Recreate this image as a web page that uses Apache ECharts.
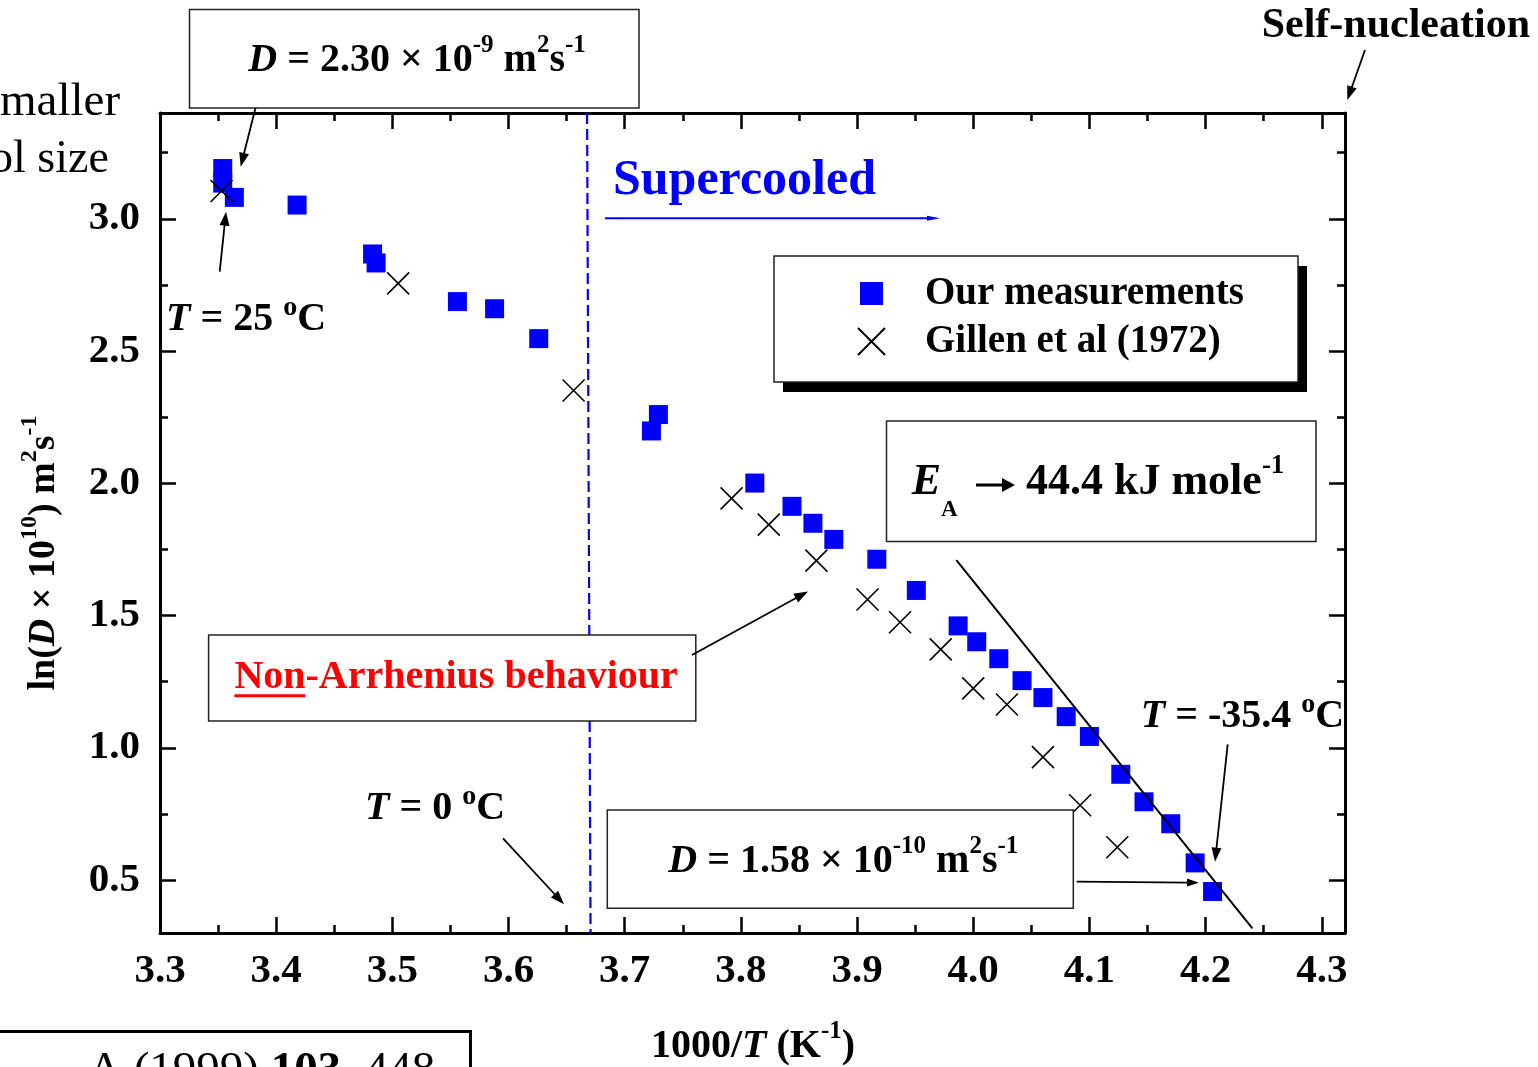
<!DOCTYPE html>
<html>
<head>
<meta charset="utf-8">
<title>Diffusion coefficient vs 1000/T</title>
<script src="https://cdn.jsdelivr.net/npm/echarts@6/dist/echarts.min.js"></script>
<style>
  html, body { margin: 0; padding: 0; background: #fff; }
  #chart { width: 1538px; height: 1067px; }
</style>
</head>
<body>
<div id="chart"></div>
<script>
// ---- data: 1000/T (K^-1) against ln(D x 10^10 / m^2 s^-1) ----
const ourX = [3.354, 3.354, 3.364, 3.418, 3.483, 3.486, 3.556, 3.588, 3.626, 3.723, 3.729,
              3.812, 3.844, 3.862, 3.880, 3.917, 3.951, 3.987, 4.003, 4.022, 4.042, 4.060,
              4.080, 4.100, 4.127, 4.147, 4.170, 4.191, 4.206];
const ourY = [3.190, 3.135, 3.081, 3.052, 2.867, 2.833, 2.687, 2.660, 2.547, 2.198, 2.260,
              2.001, 1.913, 1.849, 1.788, 1.713, 1.595, 1.461, 1.401, 1.337, 1.254, 1.190,
              1.118, 1.043, 0.900, 0.796, 0.713, 0.565, 0.457];

const gillenX = [3.353, 3.505, 3.656, 3.792, 3.824, 3.865, 3.909, 3.937, 3.972, 4.000, 4.029,
                 4.060, 4.092, 4.124];
const gillenY = [3.105, 2.756, 2.351, 1.943, 1.844, 1.708, 1.561, 1.475, 1.372, 1.225, 1.164,
                 0.965, 0.783, 0.624];

// Arrhenius line through the coldest points
const fitX = [3.9855, 4.2403];
const fitY = [1.710, 0.3175];

// 0 °C boundary (start of the supercooled region)
const zeroX = [3.6676, 3.6706];
const zeroY = [3.4, 0.3];

// axes
const xMin = 3.3, xMax = 4.32, yMin = 0.3, yMax = 3.4;
const xTicks = [3.3, 3.4, 3.5, 3.6, 3.7, 3.8, 3.9, 4.0, 4.1, 4.2, 4.3];
const xTickLabels = ['3.3', '3.4', '3.5', '3.6', '3.7', '3.8', '3.9', '4.0', '4.1', '4.2', '4.3'];
const xMinorTicks = [3.35, 3.45, 3.55, 3.65, 3.75, 3.85, 3.95, 4.05, 4.15, 4.25];
const yTicks = [0.5, 1.0, 1.5, 2.0, 2.5, 3.0];
const yTickLabels = ['0.5', '1.0', '1.5', '2.0', '2.5', '3.0'];
const yMinorTicks = [0.75, 1.25, 1.75, 2.25, 2.75, 3.25];

const seriesNames = ['Our measurements', 'Gillen et al (1972)'];

// ---- styling helpers ----
const FONT = "'Liberation Serif', 'Times New Roman', Times, serif";
const EM_MID = 0.32;   // distance from alphabetic baseline to the middle baseline, in em
const BLUE = '#0000ff', RED = '#ff0000', BLACK = '#000000';

const zip = (xs, ys) => xs.map((x, i) => [x, ys[i]]);

function labelFor(ticks, labels) {
  return function (v) {
    const i = ticks.findIndex(t => Math.abs(t - v) < 1e-6);
    return i >= 0 ? labels[i] : '';
  };
}

function makeAxis(dim, position, ticks, labels, tickLen, showLine) {
  const isX = dim === 'x';
  const axis = {
    type: 'value',
    position: position,
    gridIndex: 0,
    min: isX ? xMin : yMin,
    max: isX ? xMax : yMax,
    axisLine: { show: showLine, onZero: false, lineStyle: { color: BLACK, width: 3 } },
    axisTick: { show: true, inside: true, length: tickLen, customValues: ticks,
                lineStyle: { color: BLACK, width: 2.5 } },
    axisLabel: { show: false },
    splitLine: { show: false },
    minorTick: { show: false },
    minorSplitLine: { show: false }
  };
  if (labels) {
    axis.axisLabel = {
      show: true,
      customValues: ticks,
      formatter: labelFor(ticks, labels),
      margin: isX ? 18 : 20,
      color: BLACK,
      fontFamily: FONT,
      fontWeight: 'bold',
      fontSize: 41
    };
  }
  return axis;
}

// rich-text styles: base, italic, super/subscripts
function richStyles(F, color) {
  const s = Math.round(F * 0.62);
  const d = Math.round(F * 0.7);
  const sb = Math.round(F * 0.52);
  const base = { fontFamily: FONT, fill: color, verticalAlign: 'middle' };
  return {
    b: Object.assign({}, base, { fontSize: F, fontWeight: 'bold' }),
    i: Object.assign({}, base, { fontSize: F, fontWeight: 'bold', fontStyle: 'italic' }),
    r: Object.assign({}, base, { fontSize: F, fontWeight: 'normal' }),
    sup: Object.assign({}, base, { fontSize: s, fontWeight: 'bold',
      padding: [0, 0, 2 * (0.49 * F - EM_MID * (F - s)), 0] }),
    deg: Object.assign({}, base, { fontSize: d, fontWeight: 'bold',
      padding: [0, 0, 2 * (0.38 * F - EM_MID * (F - d)), 0] }),
    sub: Object.assign({}, base, { fontSize: sb, fontWeight: 'bold',
      padding: [2 * (0.47 * F + EM_MID * (F - sb)), 0, 0, 0] })
  };
}

function text(x, baseline, content, F, color, align) {
  return {
    type: 'text', z: 12, silent: true,
    x: x, y: baseline - EM_MID * F,
    style: { text: content, rich: richStyles(F, color || BLACK),
             align: align || 'left', verticalAlign: 'middle' }
  };
}

function box(x, y, w, h, lw, stroke) {
  return { type: 'rect', z: 10, silent: true,
           shape: { x: x, y: y, width: w, height: h },
           style: { fill: '#ffffff', stroke: stroke || '#222', lineWidth: lw || 1.5 } };
}

function arrow(x1, y1, x2, y2, color, lw, hl, hw) {
  color = color || BLACK; lw = lw || 1.8; hl = hl || 14; hw = hw || 5;
  const dx = x2 - x1, dy = y2 - y1, L = Math.hypot(dx, dy), ux = dx / L, uy = dy / L;
  const bx = x2 - ux * hl, by = y2 - uy * hl;
  return [
    { type: 'line', z: 11, silent: true,
      shape: { x1: x1, y1: y1, x2: bx + ux * 2, y2: by + uy * 2 },
      style: { stroke: color, lineWidth: lw } },
    { type: 'polygon', z: 11, silent: true,
      shape: { points: [[x2, y2], [bx - uy * hw, by + ux * hw], [bx + uy * hw, by - ux * hw]] },
      style: { fill: color } }
  ];
}

const CROSS = 'path://M0,0L10,10M10,0L0,10';
const SQUARE_ICON = 'path://M0,0M27,27M2,2L25,2L25,25L2,25Z';

// ---- annotations ----
const yTitle = {
  type: 'text', z: 12, silent: true,
  x: 56 - EM_MID * 38, y: 553, rotation: Math.PI / 2,
  style: {
    text: '{b|ln(}{i|D}{b| × 10}{sup|10}{b|) m}{sup|2}{b|s}{sup|-1}',
    rich: richStyles(38, BLACK), align: 'center', verticalAlign: 'middle'
  }
};

const graphics = [].concat(
  // text cut at the left / bottom edges
  [text(0, 118, '{r|maller}', 47),
   text(-10, 175, '{r|ol size}', 46)],
  [box(-10, 1031.5, 480.5, 80, 3, BLACK),
   text(88, 1087, '{r|A (1999) }{b|103}{r|, 448}', 47)],

  // D at 25 °C
  [box(189.5, 9.5, 449.5, 98.5),
   text(248.3, 73.3, '{i|D}{b| = 2.30 × 10}{sup|-9}{b| m}{sup|2}{b|s}{sup|-1}', 40)],
  arrow(255.5, 108, 240.7, 166.7),
  [text(166, 332, '{i|T}{b| = 25 }{deg|o}{b|C}', 40)],
  arrow(219.7, 271.7, 226, 211.7),

  // supercooled region
  [text(613, 197, '{b|Supercooled}', 50, BLUE)],
  arrow(605, 218.3, 940, 218.3, BLUE, 2, 13, 2.5),

  // legend frame with drop shadow
  [{ type: 'rect', z: 9, silent: true, shape: { x: 783, y: 266, width: 524, height: 126 },
     style: { fill: BLACK } },
   box(774, 256, 524, 126)],

  // activation energy
  [box(886.5, 421, 429.5, 120.5),
   text(911.7, 496.7, '{i|E}{sub|A}', 44),
   text(1026, 496.7, '{b|44.4 kJ mole}{sup|-1}', 44)],
  arrow(976, 485, 1015, 485, BLACK, 3, 13, 7),

  // non-Arrhenius note
  [box(208.6, 635, 487.2, 86),
   text(234.4, 690, '{b|Non-Arrhenius behaviour}', 40, RED),
   { type: 'line', z: 12, silent: true, shape: { x1: 234.4, y1: 695.8, x2: 305.4, y2: 695.8 },
     style: { stroke: RED, lineWidth: 3 } }],
  arrow(692, 655, 808, 591.5),

  // 0 °C
  [text(365, 821, '{i|T}{b| = 0 }{deg|o}{b|C}', 40)],
  arrow(503, 838.3, 564, 904.3),

  // D at -35.4 °C
  [box(607.3, 810, 466, 98.3),
   text(668.3, 874, '{i|D}{b| = 1.58 × 10}{sup|-10}{b| m}{sup|2}{b|s}{sup|-1}', 40)],
  arrow(1076.7, 881.7, 1199, 882.7, BLACK, 1.8, 12, 4),
  [text(1140.7, 729, '{i|T}{b| = -35.4 }{deg|o}{b|C}', 40)],
  arrow(1227.7, 744.3, 1215, 861.7),

  // self-nucleation limit
  [text(1261.7, 39.3, '{b|Self-nucleation}', 42)],
  arrow(1365, 50, 1347.3, 100),

  // axis titles
  [yTitle,
   text(753, 1059, '{b|1000/}{i|T}{b| (K}{sup|-1}{b|)}', 40, BLACK, 'center')]
);

const chart = echarts.init(document.getElementById('chart'), null, { renderer: 'canvas' });

chart.setOption({
  backgroundColor: '#ffffff',
  animation: false,
  grid: { left: 160, top: 113, width: 1185, height: 820, containLabel: false, outerBoundsMode: 'none' },
  xAxis: [
    makeAxis('x', 'bottom', xTicks, xTickLabels, 16, true),
    makeAxis('x', 'top', xTicks, null, 16, true),
    makeAxis('x', 'bottom', xMinorTicks, null, 8, false),
    makeAxis('x', 'top', xMinorTicks, null, 8, false)
  ],
  yAxis: [
    makeAxis('y', 'left', yTicks, yTickLabels, 16, true),
    makeAxis('y', 'right', yTicks, null, 16, true),
    makeAxis('y', 'left', yMinorTicks, null, 8, false),
    makeAxis('y', 'right', yMinorTicks, null, 8, false)
  ],
  legend: {
    orient: 'vertical',
    left: 857, top: 274,
    padding: 0,
    itemGap: 9,
    itemWidth: 27, itemHeight: 27,
    selectedMode: false,
    z: 20,
    data: [
      { name: seriesNames[0], icon: SQUARE_ICON },
      { name: seriesNames[1], icon: CROSS }
    ],
    textStyle: { fontFamily: FONT, fontWeight: 'bold', fontSize: 39, color: BLACK,
                 lineHeight: 27, padding: [0, 0, 0, 35] }
  },
  graphic: { elements: graphics },
  series: [
    {
      name: '0 °C', type: 'line', data: zip(zeroX, zeroY),
      symbol: 'none', silent: true,
      lineStyle: { color: BLUE, width: 2.2, type: [11, 5] }
    },
    {
      name: seriesNames[0], type: 'scatter', data: zip(ourX, ourY),
      symbol: 'rect', symbolSize: 19,
      itemStyle: { color: BLUE, opacity: 1 }
    },
    {
      name: 'fit', type: 'line', data: zip(fitX, fitY),
      symbol: 'none', silent: true,
      lineStyle: { color: BLACK, width: 2 }
    },
    {
      name: seriesNames[1], type: 'scatter', data: zip(gillenX, gillenY),
      symbol: CROSS, symbolSize: 22,
      itemStyle: { color: 'transparent', borderColor: BLACK, borderWidth: 1.6, opacity: 1 }
    }
  ]
});
</script>
</body>
</html>
